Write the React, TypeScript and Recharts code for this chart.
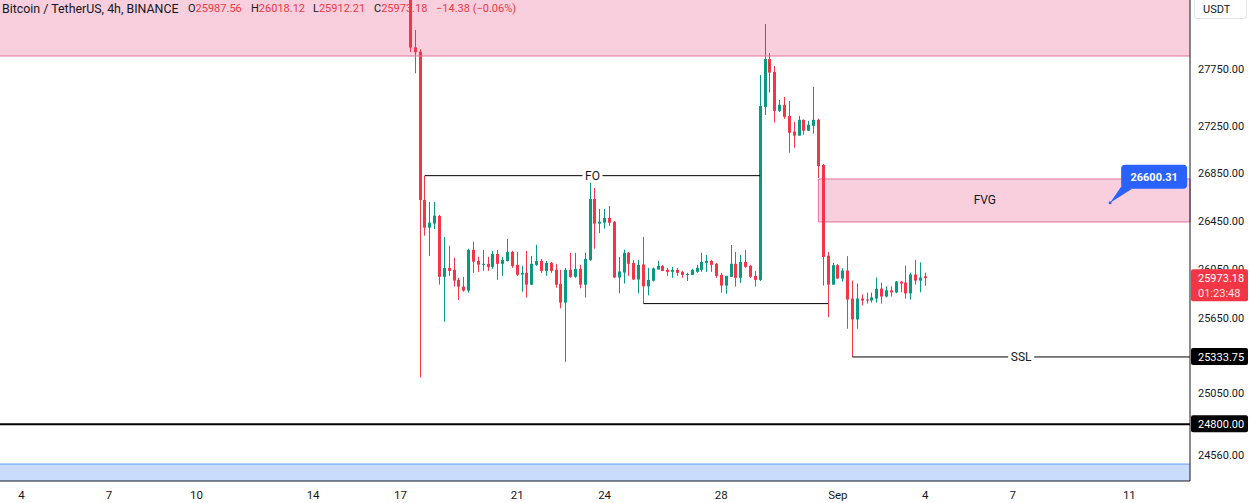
import React from 'react';
import {
  ComposedChart,
  Bar,
  XAxis,
  YAxis,
  ReferenceArea,
  ReferenceLine,
  ReferenceDot,
} from 'recharts';

const GREEN = '#089981';
const RED = '#f23645';
const INK = '#131722';
const PINK = '#f9cfdd';
const PINK_EDGE = '#e0739d';

// 4h bars, first visible bar Aug 17 08:00 (x unit = days since Aug 17 00:00)
const firstBarHour = 8;
const barHours = 4;

const opens = [
  28550, 27940, 27902, 26623, 26391, 26425, 26490, 25984, 26058, 26042,
  25959, 25904, 25871, 26207, 26115, 26085, 26091, 26066, 26173, 26091,
  26115, 26190, 26083, 26003, 26017, 25920, 26083, 26115, 26033, 26099,
  26042, 25926, 25773, 26042, 25984, 26050, 25920, 26124, 26632, 26425,
  26433, 26472, 26441, 25979, 26019, 26182, 26099, 25962, 26086, 25906,
  25953, 26045, 26074, 26042, 26025, 26042, 26025, 26000, 26000, 26025,
  26042, 26099, 26115, 26091, 26000, 25912, 25984, 26091, 25976, 26107,
  26074, 25992, 25959, 27419, 27838, 27724, 27385, 27437, 27341, 27205,
  27171, 27307, 27213, 27256, 27307, 26920, 26158, 25920, 26080, 25970,
  26036, 25806, 25636, 25806, 25798, 25790, 25806, 25887, 25823, 25873,
  25856, 25945, 25937, 25848, 26003, 25953, 25987.56,
];
const highs = [
  28600, 28095, 27923, 26829, 26606, 26606, 26498, 26313, 26241, 26141,
  25976, 25984, 26216, 26274, 26149, 26206, 26149, 26198, 26207, 26149,
  26298, 26198, 26190, 26074, 26198, 26157, 26249, 26132, 26115, 26107,
  26091, 26042, 26058, 26182, 26182, 26083, 26182, 26814, 26724, 26549,
  26549, 26574, 26445, 26149, 26209, 26190, 26121, 26124, 26313, 26058,
  26061, 26115, 26080, 26058, 26066, 26058, 26033, 26017, 26050, 26083,
  26182, 26165, 26124, 26099, 26017, 25992, 26247, 26190, 26165, 26206,
  26083, 26033, 27697, 28148, 27890, 27776, 27479, 27505, 27471, 27290,
  27341, 27310, 27299, 27594, 27316, 26928, 26190, 26099, 26090, 26055,
  26155, 25953, 25929, 25839, 25855, 25855, 25978, 25937, 25906, 25906,
  25950, 25948, 26077, 26019, 26124, 26103, 26018.12,
];
const lows = [
  27900, 27712, 25170, 26325, 26156, 26380, 25920, 25618, 25992, 25904,
  25795, 25862, 25854, 26017, 26025, 26033, 26033, 26050, 25959, 25992,
  26110, 26058, 25992, 25862, 25815, 25915, 26074, 26017, 25992, 26017,
  25895, 25726, 25295, 25976, 25976, 25890, 25815, 26115, 26216, 26346,
  26383, 26405, 25975, 25848, 25929, 25992, 25960, 25848, 25765, 25832,
  25945, 26045, 26030, 25992, 25976, 25992, 25976, 25950, 26000, 26017,
  26025, 26025, 26025, 25976, 25854, 25845, 25984, 25904, 25934, 26058,
  25976, 25904, 25950, 27349, 27544, 27284, 27375, 27316, 27025, 27067,
  27171, 27179, 27213, 27188, 26809, 25912, 25654, 25920, 25968, 25945,
  25561, 25333.75, 25561, 25750, 25765, 25773, 25773, 25765, 25815, 25823,
  25850, 25857, 25806, 25798, 25920, 25857, 25912.21,
];
const closes = [
  27938, 27897, 26623, 26391, 26433, 26492, 25984, 26056, 26033, 25953,
  25903, 25871, 26207, 26109, 26085, 26091, 26066, 26173, 26091, 26124,
  26190, 26074, 26000, 26017, 25920, 26091, 26115, 26033, 26099, 26033,
  25920, 25773, 26042, 25984, 26050, 25920, 26132, 26632, 26425, 26441,
  26472, 26433, 25979, 26028, 26182, 26091, 25962, 26083, 25906, 25959,
  26053, 26074, 26033, 26025, 26042, 26017, 26000, 26008, 26042, 26058,
  26107, 26115, 26083, 25992, 25912, 25992, 26091, 25976, 26107, 26066,
  25984, 25959, 27427, 27838, 27718, 27385, 27437, 27333, 27196, 27171,
  27307, 27213, 27264, 27307, 26911, 26148, 25920, 26080, 25970, 26036,
  25798, 25636, 25806, 25790, 25790, 25815, 25887, 25823, 25873, 25856,
  25945, 25929, 25848, 26003, 25953, 25978, 25973.18,
];

const xTicks = [-13, -10, -7, -3, 0, 4, 7, 11, 15, 18, 21, 25];
const xTickLabels = ['4', '7', '10', '14', '17', '21', '24', '28', 'Sep', '4', '7', '11'];
const yTicks = [27750, 27250, 26850, 26450, 26050, 25650, 25050, 24560];

const lastClose = 25973.18;
const countdown = '01:23:48';
const sslLevel = 25333.75;
const floorLevel = 24800;

const xDomain: [number, number] = [-13.74, 27.08];
const yDomain: [number, number] = [24359, 28362];

// drawings (x in days since Aug 17, y in USDT)
const supplyLow = 27864;
const fvgLow = 26439;
const fvgHigh = 26801;
const fvgStart = 86 / 6;
const fvgTextEnd = 25.75;
const foLevel = 26829;
const foStart = 5 / 6;
const foEnd = 74 / 6;
const lowLevel = 25765;
const lowStart = 50 / 6;
const lowEnd = 88 / 6;
const sslStart = 93 / 6;
const demandHigh = 24490;
const calloutX = 24.34;
const calloutPrice = 26600.31;

const candles = opens.map((o, i) => ({
  t: (firstBarHour + barHours * i) / 24,
  open: o,
  high: highs[i],
  low: lows[i],
  close: closes[i],
  range: [lows[i], highs[i]],
}));

const FONT = 'Roboto, "Noto Sans", sans-serif';

const Candle = (props: any) => {
  const { x, y, width, height, payload } = props;
  if (x == null || y == null) return null;
  const top = Math.min(y, y + height);
  const span = Math.abs(height);
  const lh = Math.log(payload.high);
  const ll = Math.log(payload.low);
  const py = (p: number) => (lh > ll ? top + (span * (lh - Math.log(p))) / (lh - ll) : top);
  const color = payload.close >= payload.open ? GREEN : RED;
  const c = Math.round(x + width / 2);
  const bTop = py(Math.max(payload.open, payload.close));
  const bBot = py(Math.min(payload.open, payload.close));
  return (
    <g>
      <line x1={c + 0.5} x2={c + 0.5} y1={top} y2={top + span} stroke={color} strokeWidth={1} />
      <rect x={c - 1} y={bTop} width={3} height={Math.max(1, bBot - bTop)} fill={color} />
    </g>
  );
};

const LineTag = ({ viewBox, text, w }: any) => {
  if (!viewBox) return null;
  const cx = viewBox.x + viewBox.width / 2;
  const cy = viewBox.y + viewBox.height / 2;
  return (
    <g>
      <rect x={cx - w / 2} y={cy - 7} width={w} height={14} fill="#fff" />
      <text x={cx} y={cy} dy={4} textAnchor="middle" fontSize={12} fontFamily={FONT} fill={INK}>
        {text}
      </text>
    </g>
  );
};

const AreaText = ({ viewBox, text }: any) => {
  if (!viewBox) return null;
  return (
    <text
      x={viewBox.x + viewBox.width / 2}
      y={viewBox.y + viewBox.height / 2}
      dy={4}
      textAnchor="middle"
      fontSize={12}
      fontFamily={FONT}
      fill={INK}
    >
      {text}
    </text>
  );
};

const Callout = ({ cx, cy }: any) => {
  if (cx == null) return null;
  return (
    <g>
      <path
        d={`M${cx} ${cy} L${cx + 11} ${cy - 16} L${cx + 22} ${cy - 14} Z`}
        fill="#2962ff"
      />
      <rect x={cx + 11} y={cy - 38} width={66} height={24} rx={4} fill="#2962ff" />
      <circle cx={cx} cy={cy} r={1.5} fill="#2962ff" />
      <text
        x={cx + 44}
        y={cy - 26}
        dy={4}
        textAnchor="middle"
        fontSize={11}
        fontWeight={700}
        fontFamily={FONT}
        fill="#fff"
      >
        {calloutPrice.toFixed(2)}
      </text>
    </g>
  );
};

const PriceTick = ({ x, y, payload }: any) => {
  const v = payload.value;
  const label = v.toFixed(2);
  if (v === lastClose) {
    return (
      <g>
        <rect x={x - 7} y={y - 9} width={57} height={32} rx={2} fill={RED} />
        <text x={x} y={y} dy={4} fontSize={11} fontFamily={FONT} fill="#fff">{label}</text>
        <text x={x} y={y + 15} dy={4} fontSize={11} fontFamily={FONT} fill="#fde2e4">{countdown}</text>
      </g>
    );
  }
  if (v === sslLevel || v === floorLevel) {
    return (
      <g>
        <rect x={x - 7} y={y - 9} width={57} height={17} rx={2} fill="#000" />
        <text x={x} y={y} dy={4} fontSize={11} fontFamily={FONT} fill="#fff">{label}</text>
      </g>
    );
  }
  return (
    <text x={x} y={y} dy={4} fontSize={11} fontFamily={FONT} fill={INK}>{label}</text>
  );
};

const TimeTick = ({ x, y, payload }: any) => {
  const i = xTicks.indexOf(payload.value);
  return (
    <text x={x} y={y} dy={10} textAnchor="middle" fontSize={11.5} fontFamily={FONT} fill={INK}>
      {xTickLabels[i]}
    </text>
  );
};

const Header = () => {
  const val = { color: RED };
  const item = (left: number) => ({ position: 'absolute' as const, left, top: 0, whiteSpace: 'nowrap' as const });
  return (
    <div
      style={{
        position: 'absolute',
        left: 0,
        top: 1,
        width: 600,
        height: 18,
        fontFamily: FONT,
        fontSize: 11,
        lineHeight: '16px',
        color: INK,
        pointerEvents: 'none',
      }}
    >
      <span style={{ ...item(2), fontSize: 12.4 }}>Bitcoin / TetherUS, 4h, BINANCE</span>
      <span style={item(188)}>O<span style={val}>25987.56</span></span>
      <span style={item(251)}>H<span style={val}>26018.12</span></span>
      <span style={item(313)}>L<span style={val}>25912.21</span></span>
      <span style={item(374)}>C<span style={val}>25973.18</span></span>
      <span style={{ ...item(436), ...val }}>−14.38 (−0.06%)</span>
    </div>
  );
};

export default function App() {
  return (
    <div style={{ position: 'absolute', left: 0, top: 0, width: 1250, height: 503, background: '#fff' }}>
      <ComposedChart
        width={1250}
        height={503}
        data={candles}
        margin={{ top: 0, right: 0, bottom: 0, left: 0 }}
      >
        <XAxis
          dataKey="t"
          type="number"
          domain={xDomain}
          allowDataOverflow
          ticks={xTicks}
          interval={0}
          tick={<TimeTick />}
          tickLine={false}
          tickSize={0}
          tickMargin={8}
          height={22}
          axisLine={{ stroke: INK }}
        />
        <YAxis
          orientation="right"
          scale="log"
          type="number"
          domain={yDomain}
          allowDataOverflow
          ticks={[...yTicks, lastClose, sslLevel, floorLevel]}
          interval={0}
          tick={<PriceTick />}
          tickLine={false}
          tickSize={0}
          tickMargin={8}
          width={60}
          axisLine={{ stroke: INK }}
        />
        <ReferenceArea y1={supplyLow} y2={yDomain[1]} fill={PINK} fillOpacity={1} stroke="none" ifOverflow="hidden" />
        <ReferenceLine y={supplyLow} stroke={PINK_EDGE} strokeWidth={1} />
        <ReferenceArea
          x1={fvgStart}
          x2={xDomain[1]}
          y1={fvgLow}
          y2={fvgHigh}
          fill={PINK}
          fillOpacity={1}
          stroke={PINK_EDGE}
          strokeWidth={1}
        />
        <ReferenceArea
          x1={fvgStart}
          x2={fvgTextEnd}
          y1={fvgLow}
          y2={fvgHigh}
          fill="none"
          stroke="none"
          label={<AreaText text="FVG" />}
        />
        <ReferenceArea y1={yDomain[0]} y2={demandHigh} fill="#c9dcfb" fillOpacity={1} stroke="none" ifOverflow="hidden" />
        <ReferenceLine y={demandHigh} stroke="#5d9cf0" strokeWidth={1} />
        <ReferenceLine y={floorLevel} stroke="#000" strokeWidth={2} />
        <ReferenceLine
          segment={[{ x: foStart, y: foLevel }, { x: foEnd, y: foLevel }]}
          stroke="#000"
          strokeWidth={1}
          label={<LineTag text="FO" w={20} />}
        />
        <ReferenceLine
          segment={[{ x: lowStart, y: lowLevel }, { x: lowEnd, y: lowLevel }]}
          stroke="#000"
          strokeWidth={1}
        />
        <ReferenceLine
          segment={[{ x: sslStart, y: sslLevel }, { x: xDomain[1], y: sslLevel }]}
          stroke="#000"
          strokeWidth={1}
          label={<LineTag text="SSL" w={26} />}
        />
        <Bar dataKey="range" barSize={4} shape={<Candle />} isAnimationActive={false} />
        <ReferenceDot x={calloutX} y={calloutPrice} r={2} shape={<Callout />} />
      </ComposedChart>
      <Header />
      <div
        style={{
          position: 'absolute',
          left: 1194,
          top: 0,
          width: 53,
          height: 19,
          border: '1px solid #e0e3eb',
          borderTop: 'none',
          borderRadius: '0 0 4px 4px',
          background: '#fff',
          fontFamily: FONT,
          fontSize: 11,
          color: INK,
          lineHeight: '19px',
          paddingLeft: 8,
          boxSizing: 'border-box',
        }}
      >
        USDT
      </div>
    </div>
  );
}
